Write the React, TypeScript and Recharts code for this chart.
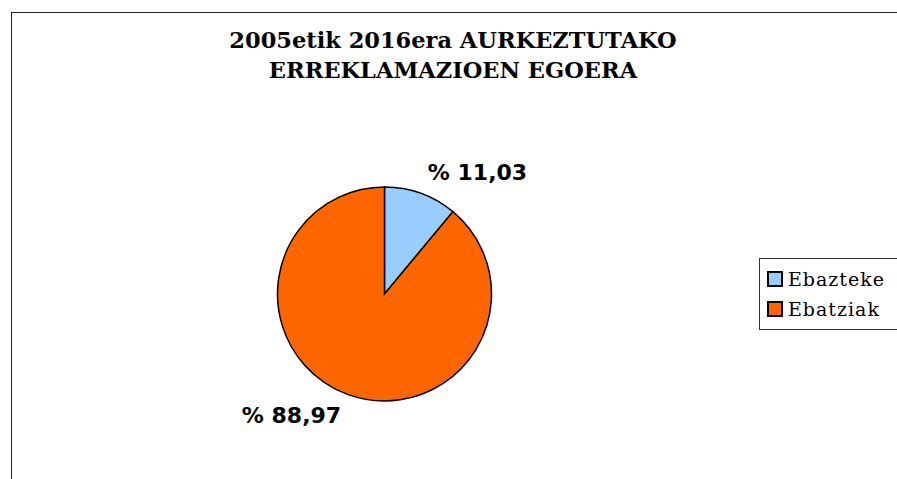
import { PieChart, Pie, Cell, Legend } from "recharts";

const categories = ["Ebazteke", "Ebatziak"];
const percents = [11.03, 88.97];
const colors = ["#99CCFF", "#FF6600"];
const titleLines = ["2005etik 2016era AURKEZTUTAKO", "ERREKLAMAZIOEN EGOERA"];

const data = categories.map((name, i) => ({ name, value: percents[i] }));

const RAD = Math.PI / 180;

// Excel puts labels off the slice corners, roughly
const renderLabel = (props: any) => {
  const { cx, cy, midAngle, value } = props;
  const c = Math.cos(-midAngle * RAD);
  const s = Math.sin(-midAngle * RAD);
  const x = cx + (c >= 0 ? 93 : -93);
  const y = cy + s * 129;
  return (
    <text
      x={x}
      y={y}
      textAnchor="middle"
      dominantBaseline="central"
      fill="#000"
      fontFamily="DejaVu Sans"
      fontWeight="bold"
      fontSize={22}
    >
      {"% " + value.toFixed(2).replace(".", ",")}
    </text>
  );
};

const renderLegend = () => (
  <div
    style={{
      border: "1px solid #333",
      padding: "5px 0 5px 7px",
      width: 160,
      boxSizing: "border-box",
      background: "#fff",
    }}
  >
    {categories.map((name, i) => (
      <div
        key={name}
        style={{
          display: "flex",
          alignItems: "center",
          height: 30,
          fontFamily: "DejaVu Serif",
          fontSize: 19,
          letterSpacing: 1,
          color: "#000",
        }}
      >
        <span
          style={{
            display: "inline-block",
            width: 12,
            height: 12,
            border: "2px solid #000",
            background: colors[i],
            marginRight: 5,
          }}
        />
        {name}
      </div>
    ))}
  </div>
);

export default function App() {
  return (
    <div style={{ position: "absolute", left: 0, top: 0, width: 897, height: 479, overflow: "hidden", background: "#fff" }}>
      <div
        style={{
          position: "absolute",
          left: 11,
          top: 12,
          width: 920,
          height: 500,
          border: "1px solid #222",
        }}
      />
      <div
        style={{
          position: "absolute",
          left: 0,
          top: 25,
          width: 906,
          textAlign: "center",
          fontFamily: "DejaVu Serif",
          fontWeight: "bold",
          fontSize: 22.5,
          lineHeight: "30px",
          color: "#000",
        }}
      >
        {titleLines.map((t) => (
          <div key={t}>{t}</div>
        ))}
      </div>
      <PieChart
        width={897}
        height={479}
        margin={{ top: 0, right: 0, bottom: 0, left: 0 }}
        style={{ position: "absolute", left: 0, top: 0 }}
      >
        <Pie
          data={data}
          dataKey="value"
          nameKey="name"
          cx={384.5}
          cy={294}
          outerRadius={107}
          startAngle={90}
          endAngle={-270}
          stroke="#000"
          strokeWidth={1.5}
          label={renderLabel}
          labelLine={false}
          isAnimationActive={false}
        >
          {data.map((d, i) => (
            <Cell key={d.name} fill={colors[i]} />
          ))}
        </Pie>
        <Legend
          content={renderLegend}
          wrapperStyle={{ position: "absolute", left: 759, top: 258, width: 160 }}
        />
      </PieChart>
    </div>
  );
}
